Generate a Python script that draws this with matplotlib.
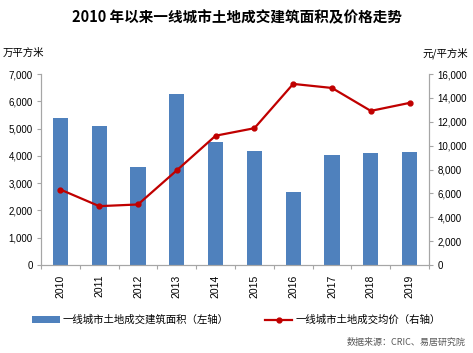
import numpy as np
import matplotlib
matplotlib.use('Agg')
import matplotlib.pyplot as plt  # noqa
from matplotlib.ticker import FuncFormatter  # noqa

plt.rcParams['font.family'] = ['Noto Sans CJK SC', 'DejaVu Sans']

years = ['2010', '2011', '2012', '2013', '2014',
         '2015', '2016', '2017', '2018', '2019']
area = [5400, 5080, 3580, 6250, 4505, 4175, 2660, 4040, 4100, 4150]
price = [6320, 4930, 5070, 7930, 10830, 11460, 15170, 14830, 12910, 13580]

title = '2010 年以来一线城市土地成交建筑面积及价格走势'
area_label = '一线城市土地成交建筑面积（左轴）'
price_label = '一线城市土地成交均价（右轴）'
source = '数据来源：CRIC、易居研究院'

bar_color = '#4F81BD'
line_color = '#C00000'
axis_color = '#A6A6A6'
num_font = 'Liberation Sans'

fig = plt.figure(figsize=(4.73, 3.53), dpi=100)
ax = fig.add_axes([41 / 473, 1 - 265 / 353, 388 / 473, 191 / 353])
ax2 = ax.twinx()

x = np.arange(len(years))
bars = ax.bar(x, area, width=0.39, color=bar_color, zorder=2)
line, = ax2.plot(x, price, color=line_color, lw=1.6, marker='o',
                 markersize=3.5, zorder=3)

ax.set_xlim(-0.5, len(years) - 0.5)
ax.set_ylim(0, 7000)
ax.set_yticks(np.arange(0, 7001, 1000))
ax2.set_ylim(0, 16000)
ax2.set_yticks(np.arange(0, 16001, 2000))

fmt = FuncFormatter(lambda v, p: f'{v:,.0f}')
ax.yaxis.set_major_formatter(fmt)
ax2.yaxis.set_major_formatter(fmt)

# x ticks sit between the categories, labels at the centres
ax.set_xticks(np.arange(-0.5, len(years), 1))
ax.set_xticklabels([])
ax.set_xticks(x, minor=True)
ax.set_xticklabels(years, minor=True, rotation=90, fontsize=7.5,
                   family=num_font)
ax.tick_params(axis='x', which='minor', length=0, pad=7)
ax.tick_params(axis='x', which='major', length=3, color=axis_color,
               direction='out')
ax.tick_params(axis='y', length=3, color=axis_color, pad=3)
ax2.tick_params(axis='y', length=3, color=axis_color, pad=3)
for lab in ax.get_yticklabels() + ax2.get_yticklabels():
    lab.set_fontsize(7)
    lab.set_family(num_font)

for a in (ax, ax2):
    a.spines['top'].set_visible(False)
    for s in ('left', 'right', 'bottom'):
        a.spines[s].set_color(axis_color)
        a.spines[s].set_linewidth(0.8)

fig.text(0.5, 1 - 17 / 353, title, ha='center', va='center',
         fontsize=10.5, fontweight='bold')
fig.text(3 / 473, 1 - 53 / 353, '万平方米', ha='left', va='center',
         fontsize=7.5)
fig.text(468 / 473, 1 - 53 / 353, '元/平方米', ha='right', va='center',
         fontsize=7.5)
fig.text(466 / 473, 1 - 342 / 353, source, ha='right', va='center',
         fontsize=6.5, color='#595959')

fig.legend([bars, line], [area_label, price_label], loc='center',
           bbox_to_anchor=(0.5, 1 - 320 / 353), ncol=2, frameon=False,
           fontsize=7.5, handlelength=2.6, columnspacing=3.5,
           handletextpad=0.3)

fig.savefig('out.png', dpi=100)
